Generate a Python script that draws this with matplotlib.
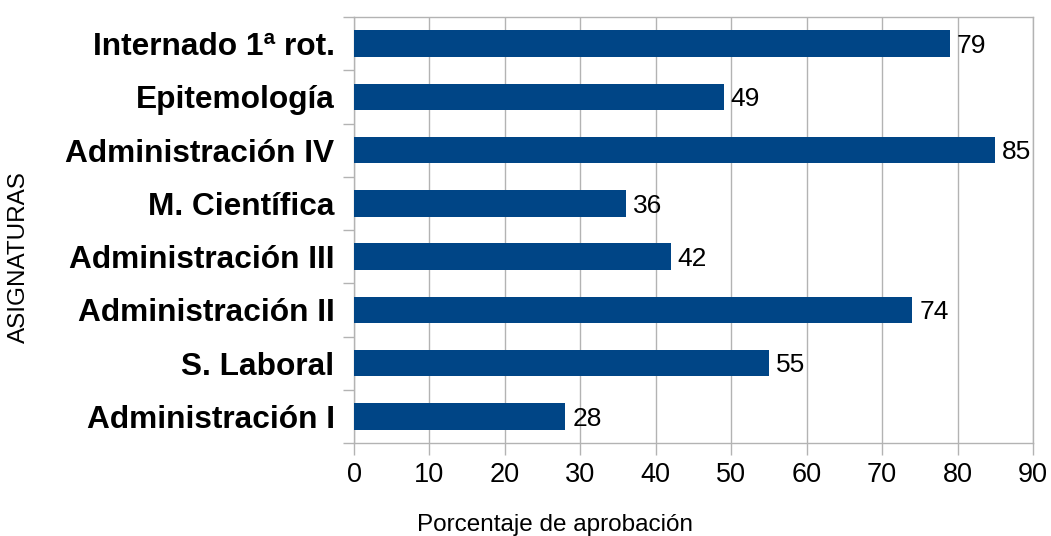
import matplotlib
matplotlib.use("Agg")
import matplotlib.pyplot as plt
import matplotlib.transforms as mtransforms
from matplotlib.ticker import FixedLocator

categories = ["Administración I", "S. Laboral", "Administración II", "Administración III",
              "M. Científica", "Administración IV", "Epitemología", "Internado 1ª rot."]
values = [28, 55, 74, 42, 36, 85, 49, 79]
xticks = [0, 10, 20, 30, 40, 50, 60, 70, 80, 90]

plt.rcParams['font.family'] = ['Liberation Sans', 'DejaVu Sans']
grid_c = "#b3b3b3"
bar_c = "#004586"

fig = plt.figure(figsize=(10.51, 5.36), dpi=100)
ax = fig.add_axes([354/1051, 1-443/536, (1033-354)/1051, (443-17)/536])

ypos = list(range(len(categories)))
ax.barh(ypos, values, height=0.5, color=bar_c, zorder=3)
vfs = 19
trans = mtransforms.offset_copy(ax.transData, fig=fig, x=5, y=-0.354 * vfs, units='points')
for y, v in zip(ypos, values):
    ax.text(v, y, str(v), va='baseline', ha='left', fontsize=vfs, color='black', transform=trans)

ax.set_xlim(0, 90)
ax.set_ylim(-0.5, len(categories) - 0.5)
ax.set_xticks(xticks)
ax.set_xticklabels([str(t) for t in xticks], fontsize=19.5)
ax.set_yticks(ypos)
ax.set_yticklabels(categories, fontsize=22.8, fontweight='bold')
ax.yaxis.set_minor_locator(FixedLocator([i - 0.5 for i in range(len(categories) + 1)]))
ax.tick_params(axis='y', which='major', length=0, pad=14)
ax.tick_params(axis='y', which='minor', length=8, color=grid_c, width=1)
ax.tick_params(axis='x', which='major', length=8.6, color=grid_c, width=1, pad=5)

ax.grid(axis='x', color=grid_c, linewidth=1, zorder=0)
for s in ax.spines.values():
    s.set_color(grid_c)
    s.set_linewidth(1)

ax.set_xlabel("Porcentaje de aprobación", fontsize=17.5)
ax.xaxis.set_label_coords(0.296, -(514 - 443) / 426)
ax.set_ylabel("ASIGNATURAS", fontsize=17.5)
ax.yaxis.set_label_coords(-0.477, 0.437)

fig.savefig("out.png", dpi=100)
